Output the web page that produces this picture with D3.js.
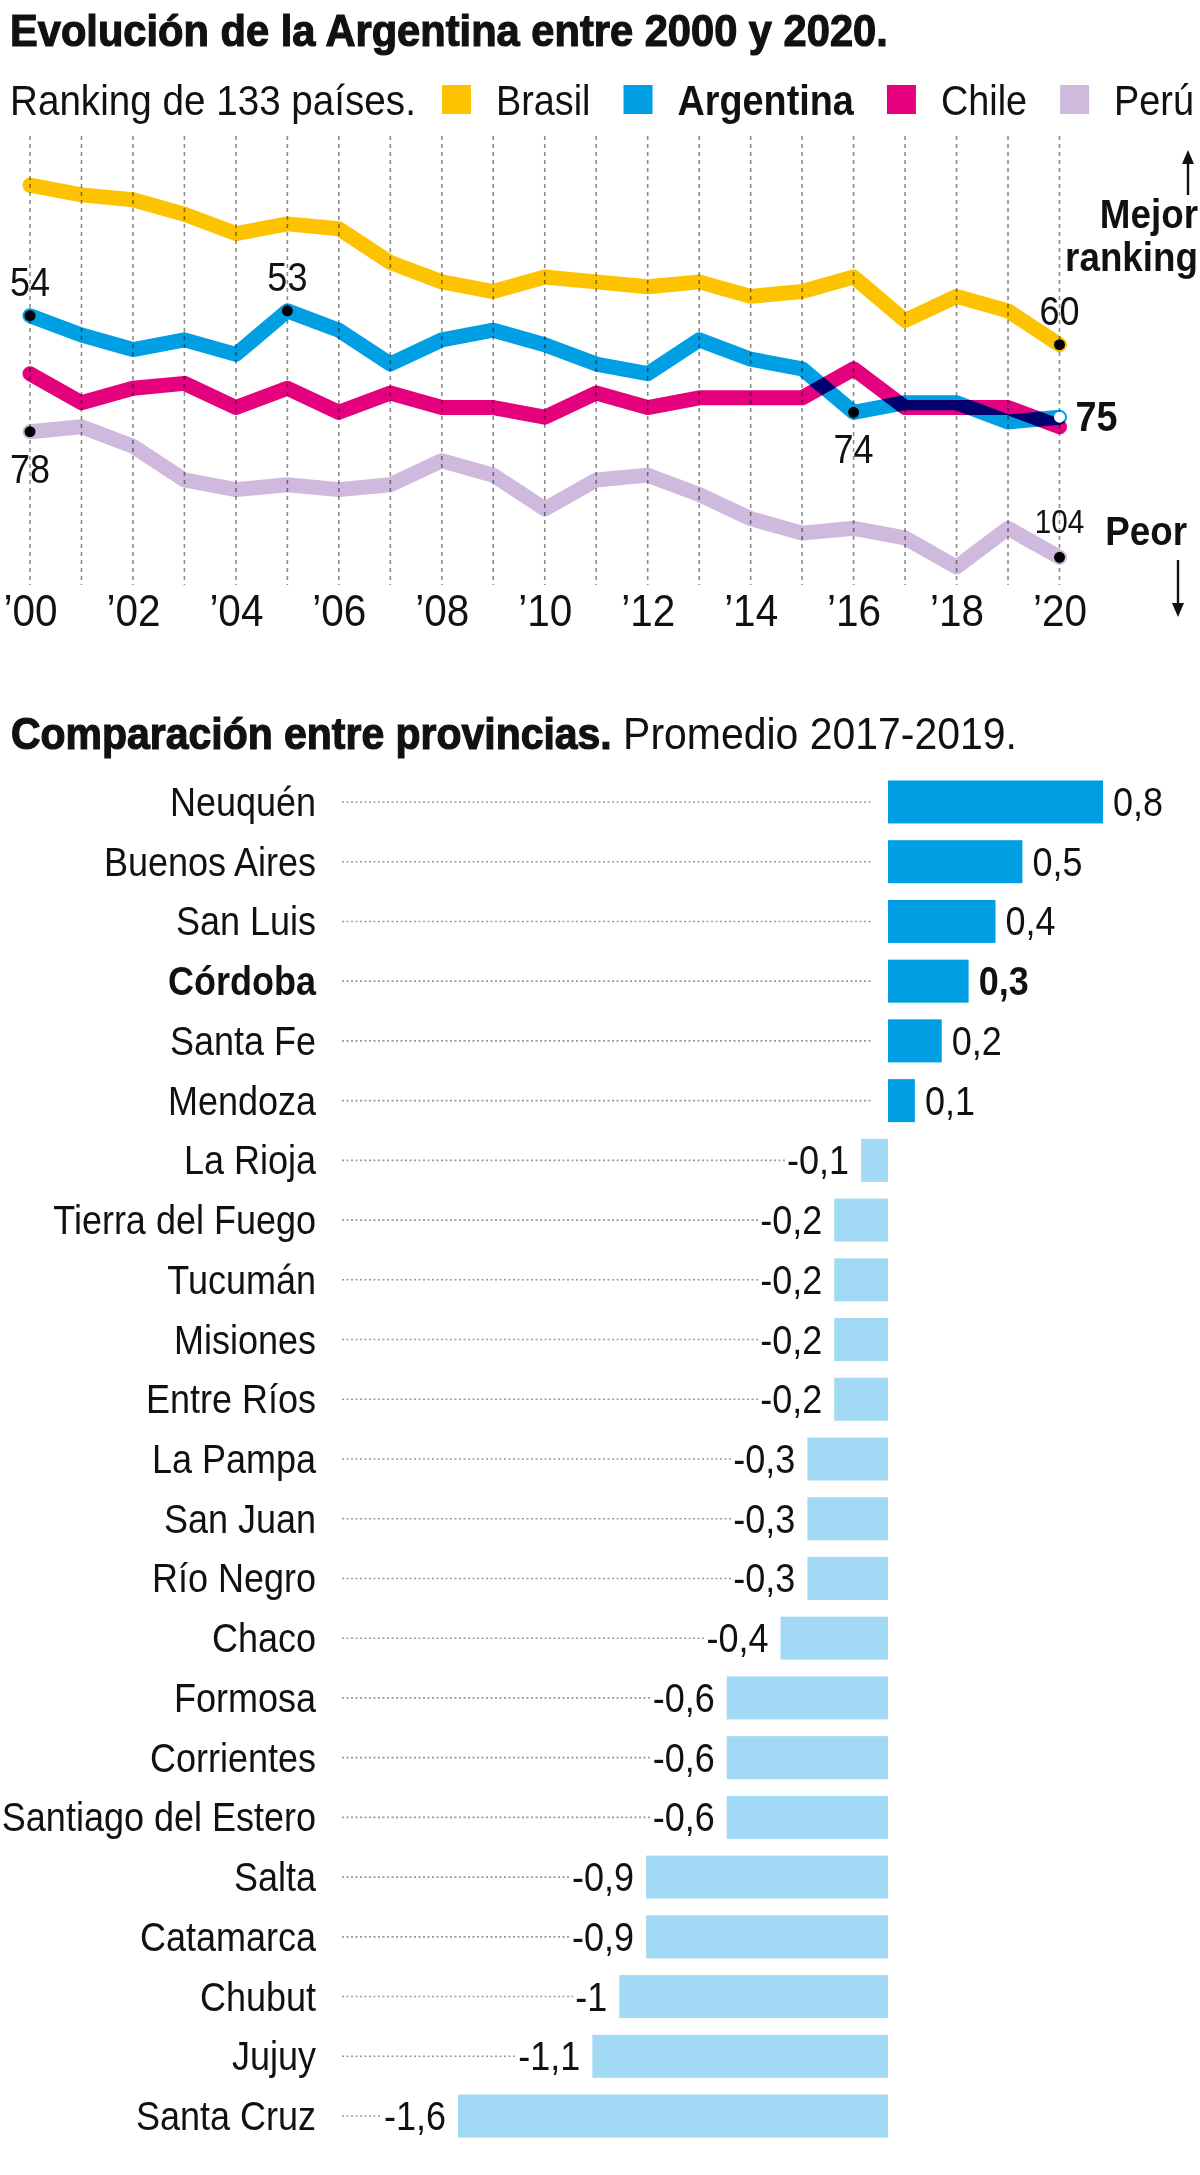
<!DOCTYPE html>
<html>
<head>
<meta charset="utf-8">
<script src="https://cdn.jsdelivr.net/npm/d3@7"></script>
<style>
  body { margin: 0; background: #fff; }
  svg { display: block; }
  text { font-family: "Liberation Sans", Arial, sans-serif; fill: #111; }
</style>
</head>
<body>
<div id="chart"></div>
<script>
// ---- Line chart data (ranking, 133 países) ----
const years = [2000, 2001, 2002, 2003, 2004, 2005, 2006, 2007, 2008, 2009, 2010,
               2011, 2012, 2013, 2014, 2015, 2016, 2017, 2018, 2019, 2020];
const brasil    = [27, 29, 30, 33, 37, 35, 36, 43, 47, 49, 46, 47, 48, 47, 50, 49, 46, 55, 50, 53, 60];
const argentina = [54, 58, 61, 59, 62, 53, 57, 64, 59, 57, 60, 64, 66, 59, 63, 65, 74, 72, 72, 76, 75];
const chile     = [66, 72, 69, 68, 73, 69, 74, 70, 73, 73, 75, 70, 73, 71, 71, 71, 65, 73, 73, 73, 77];
const peru      = [78, 77, 81, 88, 90, 89, 90, 89, 84, 87, 94, 88, 87, 91, 96, 99, 98, 100, 106, 98, 104];
const tickYears = [2000, 2002, 2004, 2006, 2008, 2010, 2012, 2014, 2016, 2018, 2020];

// ---- Bar chart data (promedio 2017-2019) ----
const provinces = ["Neuquén", "Buenos Aires", "San Luis", "Córdoba", "Santa Fe", "Mendoza",
  "La Rioja", "Tierra del Fuego", "Tucumán", "Misiones", "Entre Ríos", "La Pampa", "San Juan",
  "Río Negro", "Chaco", "Formosa", "Corrientes", "Santiago del Estero", "Salta", "Catamarca",
  "Chubut", "Jujuy", "Santa Cruz"];
const provValues = [0.8, 0.5, 0.4, 0.3, 0.2, 0.1, -0.1, -0.2, -0.2, -0.2, -0.2, -0.3, -0.3,
  -0.3, -0.4, -0.6, -0.6, -0.6, -0.9, -0.9, -1, -1.1, -1.6];

// which points get a dot + number
const callouts = [
  ["Argentina", 2000], ["Argentina", 2005], ["Argentina", 2016], ["Argentina", 2020],
  ["Perú", 2000], ["Perú", 2020], ["Brasil", 2020]
];

const series = [
  { name: "Brasil", values: brasil, color: "#fdc300" },
  { name: "Argentina", values: argentina, color: "#009fe3" },
  { name: "Chile", values: chile, color: "#e5007d" },
  { name: "Perú", values: peru, color: "#cfb9dd" }
];

const SX = 0.9; // horizontal squeeze, to get a condensed face out of Liberation Sans

// move x/y into a transform so the glyphs can be narrowed around the anchor
function squeeze(sel, sx) {
  sel.each(function () {
    const t = d3.select(this);
    const x0 = +t.attr("x") || 0, y0 = +t.attr("y") || 0;
    t.attr("x", null).attr("y", null)
      .attr("transform", `translate(${x0},${y0}) scale(${sx},1)`);
  });
  return sel;
}
function fitWidth(sel, w) {
  return squeeze(sel, w / sel.node().getComputedTextLength());
}

const svg = d3.select("#chart").append("svg")
  .attr("width", 1200)
  .attr("height", 2175);
svg.append("rect").attr("width", 1200).attr("height", 2175).attr("fill", "#fff");

// ---- Titles ----
const title = svg.append("text")
  .attr("x", 10).attr("y", 46)
  .attr("font-size", 44).attr("font-weight", 700)
  .attr("stroke", "#111").attr("stroke-width", 1.2)
  .text("Evolución de la Argentina entre 2000 y 2020.");
fitWidth(title, 878);

const sub = svg.append("text")
  .attr("x", 10).attr("y", 115)
  .attr("font-size", 42)
  .text("Ranking de 133 países.");
fitWidth(sub, 406);

// legend follows the subtitle
let lx = 442;
series.forEach(s => {
  svg.append("rect")
    .attr("x", lx).attr("y", 85)
    .attr("width", 29).attr("height", 29)
    .attr("fill", s.color);
  lx += 29 + 25;
  const t = svg.append("text")
    .attr("x", lx).attr("y", 115)
    .attr("font-size", 42)
    .attr("font-weight", s.name === "Argentina" ? 700 : 400)
    .text(s.name);
  lx += t.node().getComputedTextLength() * SX + 33;
  squeeze(t, SX);
});

// ---- Line chart ----
const x = d3.scaleLinear().domain([2000, 2020]).range([30, 1059.5]);
const y = d3.scaleLinear().domain([54, 104]).range([315.7, 557.3]);

// dashed year guides
svg.append("g")
  .selectAll("line")
  .data(years)
  .join("line")
  .attr("x1", d => x(d)).attr("x2", d => x(d))
  .attr("y1", 136).attr("y2", 585)
  .attr("stroke", "#8c8c8c")
  .attr("stroke-width", 1.6)
  .attr("stroke-dasharray", "4,4");

// year labels
const xAxis = svg.append("g")
  .attr("transform", "translate(0,594)")
  .call(d3.axisBottom(x)
    .tickValues(tickYears)
    .tickSize(0)
    .tickPadding(0)
    .tickFormat(d => "\u2019" + String(d).slice(2)));
xAxis.select(".domain").remove();
squeeze(xAxis.selectAll("text")
  .attr("font-size", 45)
  .attr("font-family", null)
  .attr("fill", "#111"), SX);

const line = d3.line()
  .x((d, i) => x(years[i]))
  .y(d => y(d));

// draw order: Perú, Chile, Argentina, Brasil
[3, 2, 1, 0].forEach(k => {
  const s = series[k];
  svg.append("path")
    .datum(s.values)
    .attr("d", line)
    .attr("fill", "none")
    .attr("stroke", s.color)
    .attr("stroke-width", 15)
    .attr("stroke-linecap", "round")
    .attr("stroke-linejoin", "round")
    .style("mix-blend-mode", "multiply");
});

// dots + numbers
const byName = {};
series.forEach(s => byName[s.name] = s);

callouts.forEach(([name, yr]) => {
  const v = byName[name].values[years.indexOf(yr)];
  const cx = x(yr), cy = y(v);
  const isLast = name === "Argentina" && yr === 2020;

  svg.append("circle")
    .attr("cx", cx).attr("cy", cy).attr("r", 5.5)
    .attr("fill", isLast ? "#fff" : "#000");

  const t = svg.append("text").text(v).attr("font-size", 40);
  if (isLast) {
    t.attr("x", cx + 16).attr("y", cy + 14)
      .attr("font-weight", 700).attr("font-size", 42);
  } else if (name === "Perú" && yr === 2000 || name === "Argentina" && yr === 2016) {
    t.attr("x", cx).attr("y", cy + 51).attr("text-anchor", "middle");
  } else if (name === "Perú") {
    t.attr("x", cx).attr("y", cy - 24).attr("text-anchor", "middle").attr("font-size", 33);
  } else {
    t.attr("x", cx).attr("y", cy - 20).attr("text-anchor", "middle");
  }
  squeeze(t, SX);
});

// Mejor / Peor
const arrow = (xa, yTail, yTip) => {
  const dir = yTip < yTail ? 1 : -1;
  svg.append("line")
    .attr("x1", xa).attr("x2", xa)
    .attr("y1", yTail).attr("y2", yTip + dir * 12)
    .attr("stroke", "#111").attr("stroke-width", 2.4);
  svg.append("path")
    .attr("d", `M${xa},${yTip} L${xa - 6},${yTip + dir * 14} L${xa + 6},${yTip + dir * 14} Z`)
    .attr("fill", "#111");
};
arrow(1188, 195, 150);
const notes = [
  svg.append("text").attr("x", 1198).attr("y", 228).text("Mejor"),
  svg.append("text").attr("x", 1198).attr("y", 271).text("ranking"),
  svg.append("text").attr("x", 1187).attr("y", 545).text("Peor")
];
notes.forEach(t => squeeze(t.attr("text-anchor", "end")
  .attr("font-size", 40).attr("font-weight", 700), 0.92));
arrow(1178, 560, 617);

// ---- Bar chart ----
const h2 = svg.append("text").attr("x", 11).attr("y", 749).attr("font-size", 44);
h2.append("tspan").attr("font-weight", 700)
  .attr("stroke", "#111").attr("stroke-width", 1.2)
  .text("Comparación entre provincias.");
h2.append("tspan").text(" Promedio 2017-2019.");
fitWidth(h2, 1006);

const xb = d3.scaleLinear().domain([-1.6, 0.8]).range([458, 1103]);
const yb = d3.scaleBand()
  .domain(provinces)
  .range([772.1, 2145.9])
  .paddingInner(0.28)
  .paddingOuter(0.14);

const fmt = v => String(v).replace(".", ",");
const rows = provinces.map((p, i) => ({ name: p, value: provValues[i] }));

const row = svg.append("g")
  .selectAll("g")
  .data(rows)
  .join("g")
  .attr("transform", d => `translate(0,${yb(d.name) + yb.bandwidth() / 2})`);

const names = row.append("text")
  .attr("x", 316).attr("y", 14)
  .attr("text-anchor", "end")
  .attr("font-size", 40)
  .attr("font-weight", d => d.name === "Córdoba" ? 700 : 400)
  .text(d => d.name);
squeeze(names, SX);

row.append("rect")
  .attr("x", d => xb(Math.min(0, d.value)))
  .attr("y", -yb.bandwidth() / 2)
  .attr("width", d => Math.abs(xb(d.value) - xb(0)))
  .attr("height", yb.bandwidth())
  .attr("fill", d => d.value > 0 ? "#009fe3" : "#a2d9f5");

const vals = row.append("text")
  .attr("x", d => d.value > 0 ? xb(d.value) + 10 : xb(d.value) - 12)
  .attr("y", 14)
  .attr("text-anchor", d => d.value > 0 ? "start" : "end")
  .attr("font-size", 40)
  .attr("font-weight", d => d.name === "Córdoba" ? 700 : 400)
  .text(d => fmt(d.value));

// dotted leaders up to the number (negatives) or the bar (positives)
row.each(function (d, i) {
  const w = vals.nodes()[i].getComputedTextLength() * SX;
  const end = d.value > 0 ? xb(0) - 16 : xb(d.value) - 12 - w - 2;
  d3.select(this).insert("line", ":first-child")
    .attr("x1", 342).attr("x2", end)
    .attr("stroke", "#9a9a9a")
    .attr("stroke-width", 1.6)
    .attr("stroke-dasharray", "2,2.5");
});
squeeze(vals, SX);
</script>
</body>
</html>
